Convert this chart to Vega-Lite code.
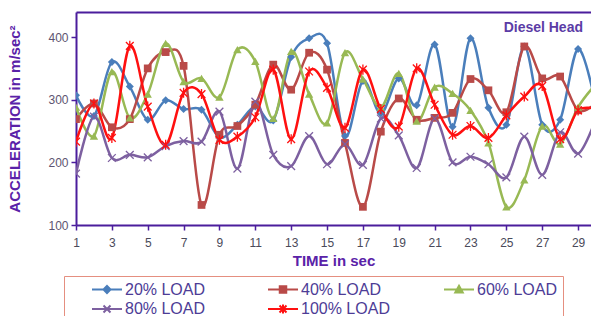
{
  "$schema": "https://vega.github.io/schema/vega-lite/v6.json",
  "width": 515,
  "height": 213,
  "autosize": {"type": "none"},
  "padding": {"left": 76, "top": 12, "right": 0, "bottom": 91},
  "background": "white",
  "config": {"font": "Liberation Sans", "view": {"stroke": null}},
  "title": {"text": "Diesel Head", "anchor": "end", "frame": "group", "orient": "top", "offset": 0, "dx": -8, "dy": 30, "baseline": "middle", "fontSize": 14, "fontWeight": "bold", "color": "#5b3ca6", "font": "Liberation Sans"},
  "datasets": {
    "acc": [
      {"time":1,"series":"20% LOAD","accel":307},{"time":2,"series":"20% LOAD","accel":274},{"time":3,"series":"20% LOAD","accel":360},{"time":4,"series":"20% LOAD","accel":321},{"time":5,"series":"20% LOAD","accel":268},{"time":6,"series":"20% LOAD","accel":299},{"time":7,"series":"20% LOAD","accel":285},{"time":8,"series":"20% LOAD","accel":284},{"time":9,"series":"20% LOAD","accel":240},{"time":10,"series":"20% LOAD","accel":260},{"time":11,"series":"20% LOAD","accel":289},{"time":12,"series":"20% LOAD","accel":267},{"time":13,"series":"20% LOAD","accel":368},{"time":14,"series":"20% LOAD","accel":398},{"time":15,"series":"20% LOAD","accel":390},{"time":16,"series":"20% LOAD","accel":242},{"time":17,"series":"20% LOAD","accel":330},{"time":18,"series":"20% LOAD","accel":278},{"time":19,"series":"20% LOAD","accel":334},{"time":20,"series":"20% LOAD","accel":291},{"time":21,"series":"20% LOAD","accel":388},{"time":22,"series":"20% LOAD","accel":257},{"time":23,"series":"20% LOAD","accel":398},{"time":24,"series":"20% LOAD","accel":287},{"time":25,"series":"20% LOAD","accel":260},{"time":26,"series":"20% LOAD","accel":385},{"time":27,"series":"20% LOAD","accel":260},{"time":28,"series":"20% LOAD","accel":268},{"time":29,"series":"20% LOAD","accel":381},{"time":30,"series":"20% LOAD","accel":290},
      {"time":1,"series":"40% LOAD","accel":269},{"time":2,"series":"40% LOAD","accel":294},{"time":3,"series":"40% LOAD","accel":256},{"time":4,"series":"40% LOAD","accel":269},{"time":5,"series":"40% LOAD","accel":350},{"time":6,"series":"40% LOAD","accel":376},{"time":7,"series":"40% LOAD","accel":354},{"time":8,"series":"40% LOAD","accel":132},{"time":9,"series":"40% LOAD","accel":244},{"time":10,"series":"40% LOAD","accel":258},{"time":11,"series":"40% LOAD","accel":292},{"time":12,"series":"40% LOAD","accel":356},{"time":13,"series":"40% LOAD","accel":316},{"time":14,"series":"40% LOAD","accel":375},{"time":15,"series":"40% LOAD","accel":348},{"time":16,"series":"40% LOAD","accel":231},{"time":17,"series":"40% LOAD","accel":129},{"time":18,"series":"40% LOAD","accel":249},{"time":19,"series":"40% LOAD","accel":302},{"time":20,"series":"40% LOAD","accel":268},{"time":21,"series":"40% LOAD","accel":271},{"time":22,"series":"40% LOAD","accel":279},{"time":23,"series":"40% LOAD","accel":333},{"time":24,"series":"40% LOAD","accel":315},{"time":25,"series":"40% LOAD","accel":280},{"time":26,"series":"40% LOAD","accel":385},{"time":27,"series":"40% LOAD","accel":334},{"time":28,"series":"40% LOAD","accel":337},{"time":29,"series":"40% LOAD","accel":283},{"time":30,"series":"40% LOAD","accel":295},
      {"time":1,"series":"60% LOAD","accel":288},{"time":2,"series":"60% LOAD","accel":242},{"time":3,"series":"60% LOAD","accel":345},{"time":4,"series":"60% LOAD","accel":271},{"time":5,"series":"60% LOAD","accel":309},{"time":6,"series":"60% LOAD","accel":390},{"time":7,"series":"60% LOAD","accel":329},{"time":8,"series":"60% LOAD","accel":334},{"time":9,"series":"60% LOAD","accel":304},{"time":10,"series":"60% LOAD","accel":380},{"time":11,"series":"60% LOAD","accel":361},{"time":12,"series":"60% LOAD","accel":270},{"time":13,"series":"60% LOAD","accel":377},{"time":14,"series":"60% LOAD","accel":309},{"time":15,"series":"60% LOAD","accel":263},{"time":16,"series":"60% LOAD","accel":375},{"time":17,"series":"60% LOAD","accel":333},{"time":18,"series":"60% LOAD","accel":288},{"time":19,"series":"60% LOAD","accel":342},{"time":20,"series":"60% LOAD","accel":266},{"time":21,"series":"60% LOAD","accel":320},{"time":22,"series":"60% LOAD","accel":310},{"time":23,"series":"60% LOAD","accel":283},{"time":24,"series":"60% LOAD","accel":231},{"time":25,"series":"60% LOAD","accel":129},{"time":26,"series":"60% LOAD","accel":172},{"time":27,"series":"60% LOAD","accel":258},{"time":28,"series":"60% LOAD","accel":229},{"time":29,"series":"60% LOAD","accel":288},{"time":30,"series":"60% LOAD","accel":325},
      {"time":1,"series":"80% LOAD","accel":182},{"time":2,"series":"80% LOAD","accel":273},{"time":3,"series":"80% LOAD","accel":207},{"time":4,"series":"80% LOAD","accel":212},{"time":5,"series":"80% LOAD","accel":208},{"time":6,"series":"80% LOAD","accel":226},{"time":7,"series":"80% LOAD","accel":234},{"time":8,"series":"80% LOAD","accel":233},{"time":9,"series":"80% LOAD","accel":281},{"time":10,"series":"80% LOAD","accel":190},{"time":11,"series":"80% LOAD","accel":297},{"time":12,"series":"80% LOAD","accel":212},{"time":13,"series":"80% LOAD","accel":194},{"time":14,"series":"80% LOAD","accel":242},{"time":15,"series":"80% LOAD","accel":197},{"time":16,"series":"80% LOAD","accel":229},{"time":17,"series":"80% LOAD","accel":196},{"time":18,"series":"80% LOAD","accel":270},{"time":19,"series":"80% LOAD","accel":243},{"time":20,"series":"80% LOAD","accel":191},{"time":21,"series":"80% LOAD","accel":270},{"time":22,"series":"80% LOAD","accel":200},{"time":23,"series":"80% LOAD","accel":209},{"time":24,"series":"80% LOAD","accel":197},{"time":25,"series":"80% LOAD","accel":176},{"time":26,"series":"80% LOAD","accel":241},{"time":27,"series":"80% LOAD","accel":180},{"time":28,"series":"80% LOAD","accel":248},{"time":29,"series":"80% LOAD","accel":214},{"time":30,"series":"80% LOAD","accel":270},
      {"time":1,"series":"100% LOAD","accel":233},{"time":2,"series":"100% LOAD","accel":294},{"time":3,"series":"100% LOAD","accel":239},{"time":4,"series":"100% LOAD","accel":386},{"time":5,"series":"100% LOAD","accel":289},{"time":6,"series":"100% LOAD","accel":228},{"time":7,"series":"100% LOAD","accel":311},{"time":8,"series":"100% LOAD","accel":309},{"time":9,"series":"100% LOAD","accel":236},{"time":10,"series":"100% LOAD","accel":241},{"time":11,"series":"100% LOAD","accel":272},{"time":12,"series":"100% LOAD","accel":348},{"time":13,"series":"100% LOAD","accel":237},{"time":14,"series":"100% LOAD","accel":345},{"time":15,"series":"100% LOAD","accel":319},{"time":16,"series":"100% LOAD","accel":255},{"time":17,"series":"100% LOAD","accel":348},{"time":18,"series":"100% LOAD","accel":285},{"time":19,"series":"100% LOAD","accel":257},{"time":20,"series":"100% LOAD","accel":350},{"time":21,"series":"100% LOAD","accel":292},{"time":22,"series":"100% LOAD","accel":244},{"time":23,"series":"100% LOAD","accel":258},{"time":24,"series":"100% LOAD","accel":239},{"time":25,"series":"100% LOAD","accel":275},{"time":26,"series":"100% LOAD","accel":305},{"time":27,"series":"100% LOAD","accel":322},{"time":28,"series":"100% LOAD","accel":237},{"time":29,"series":"100% LOAD","accel":283},{"time":30,"series":"100% LOAD","accel":285}
    ]
  },
  "data": {"name": "acc"},
  "layer": [
    {
      "mark": {"type": "line", "interpolate": "cardinal", "strokeWidth": 2.5, "clip": true},
      "encoding": {
        "x": {"field": "time", "type": "quantitative",
          "scale": {"domain": [1, 29.72], "nice": false, "zero": false},
          "axis": {"orient": "bottom", "values": [1,3,5,7,9,11,13,15,17,19,21,23,25,27,29], "format": "d", "title": "TIME in sec", "titleFontSize": 15, "titleFontWeight": "bold", "titleColor": "#5a22a8", "titlePadding": 5, "labelFontSize": 12, "labelColor": "#4a4a5a", "labelPadding": 7, "labelFlush": false, "labelOverlap": false, "tickSize": 5, "tickColor": "#4b1d9c", "tickWidth": 1.5, "domainColor": "#4b1d9c", "domainWidth": 2, "grid": false}},
        "y": {"field": "accel", "type": "quantitative",
          "scale": {"domain": [100, 440], "nice": false, "zero": false},
          "axis": {"values": [100,150,200,250,300,350,400], "title": "ACCELERATION in m/sec²", "titleFontSize": 15, "titleFontWeight": "bold", "titleColor": "#5a22a8", "titlePadding": 25, "labelFontSize": 12, "labelColor": "#5d5470", "labelPadding": 3, "tickSize": 5, "tickColor": "#4b1d9c", "tickWidth": 1.5, "domainColor": "#4b1d9c", "domainWidth": 2, "grid": false}},
        "color": {"field": "series", "type": "nominal",
          "scale": {"domain": ["20% LOAD","40% LOAD","60% LOAD","80% LOAD","100% LOAD"], "range": ["#4a7ebb","#b94a48","#98b954","#7d60a0","#ff1010"]},
          "legend": {"title": null, "orient": "none", "legendX": -12, "legendY": 264, "direction": "horizontal", "columns": 3, "padding": 5, "strokeColor": "#e58f80", "fillColor": "white", "labelFontSize": 16, "labelColor": "#4d3c96", "labelOffset": 10, "symbolOffset": 30, "labelLimit": 0, "symbolSize": 100, "symbolStrokeWidth": 2, "rowPadding": 2, "columnPadding": 31, "gridAlign": "all",
            "encode": {"symbols": {"update": {
              "shape": {"signal": "datum.value === '20% LOAD' ? 'M-3,0L3,0M0,-0.7L0.7,0L0,0.7L-0.7,0Z' : datum.value === '40% LOAD' ? 'M-3,0L3,0M-0.65,-0.65L0.65,-0.65L0.65,0.65L-0.65,0.65Z' : datum.value === '60% LOAD' ? 'M-3,0L3,0M0,-0.75L0.75,0.6L-0.75,0.6Z' : datum.value === '80% LOAD' ? 'M-3,0L3,0M-0.7,-0.7L0.7,0.7M-0.7,0.7L0.7,-0.7' : 'M-3,0L3,0M-0.7,-0.7L0.7,0.7M-0.7,0.7L0.7,-0.7M0,-0.9L0,0.9'"},
              "fill": {"signal": "scale('color', datum.value)"},
              "stroke": {"signal": "scale('color', datum.value)"},
              "size": {"value": 100},
              "strokeWidth": {"value": 2},
              "opacity": {"value": 1}
            }}}}
        }
      }
    },
    {
      "transform": [{"filter": {"field": "series", "equal": "20% LOAD"}}],
      "mark": {"type": "point", "shape": "diamond", "filled": true, "opacity": 1, "size": 64, "clip": true},
      "encoding": {
        "x": {"field": "time", "type": "quantitative",
          "axis": {"orient": "top", "labels": false, "ticks": false, "title": null, "domainColor": "#4b1d9c", "domainWidth": 2, "grid": false}},
        "y": {"field": "accel", "type": "quantitative"},
        "color": {"field": "series", "type": "nominal"}
      }
    },
    {
      "transform": [{"filter": {"field": "series", "equal": "40% LOAD"}}],
      "mark": {"type": "point", "shape": "square", "filled": true, "opacity": 1, "size": 60, "clip": true},
      "encoding": {
        "x": {"field": "time", "type": "quantitative", "axis": null},
        "y": {"field": "accel", "type": "quantitative"},
        "color": {"field": "series", "type": "nominal"}
      }
    },
    {
      "transform": [{"filter": {"field": "series", "equal": "60% LOAD"}}],
      "mark": {"type": "point", "shape": "triangle-up", "filled": true, "opacity": 1, "size": 70, "clip": true},
      "encoding": {
        "x": {"field": "time", "type": "quantitative", "axis": null},
        "y": {"field": "accel", "type": "quantitative"},
        "color": {"field": "series", "type": "nominal"}
      }
    },
    {
      "transform": [{"filter": {"field": "series", "equal": "80% LOAD"}}],
      "mark": {"type": "point", "shape": "M-1,-1L1,1M-1,1L1,-1", "filled": false, "opacity": 1, "size": 60, "strokeWidth": 1.3, "clip": true},
      "encoding": {
        "x": {"field": "time", "type": "quantitative", "axis": null},
        "y": {"field": "accel", "type": "quantitative"},
        "color": {"field": "series", "type": "nominal"}
      }
    },
    {
      "transform": [{"filter": {"field": "series", "equal": "100% LOAD"}}],
      "mark": {"type": "point", "shape": "M-1,-1L1,1M-1,1L1,-1M0,-1.3L0,1.3", "filled": false, "opacity": 1, "size": 60, "strokeWidth": 1.3, "clip": true},
      "encoding": {
        "x": {"field": "time", "type": "quantitative", "axis": null},
        "y": {"field": "accel", "type": "quantitative"},
        "color": {"field": "series", "type": "nominal"}
      }
    }
  ],
  "resolve": {"axis": {"x": "independent"}}
}
